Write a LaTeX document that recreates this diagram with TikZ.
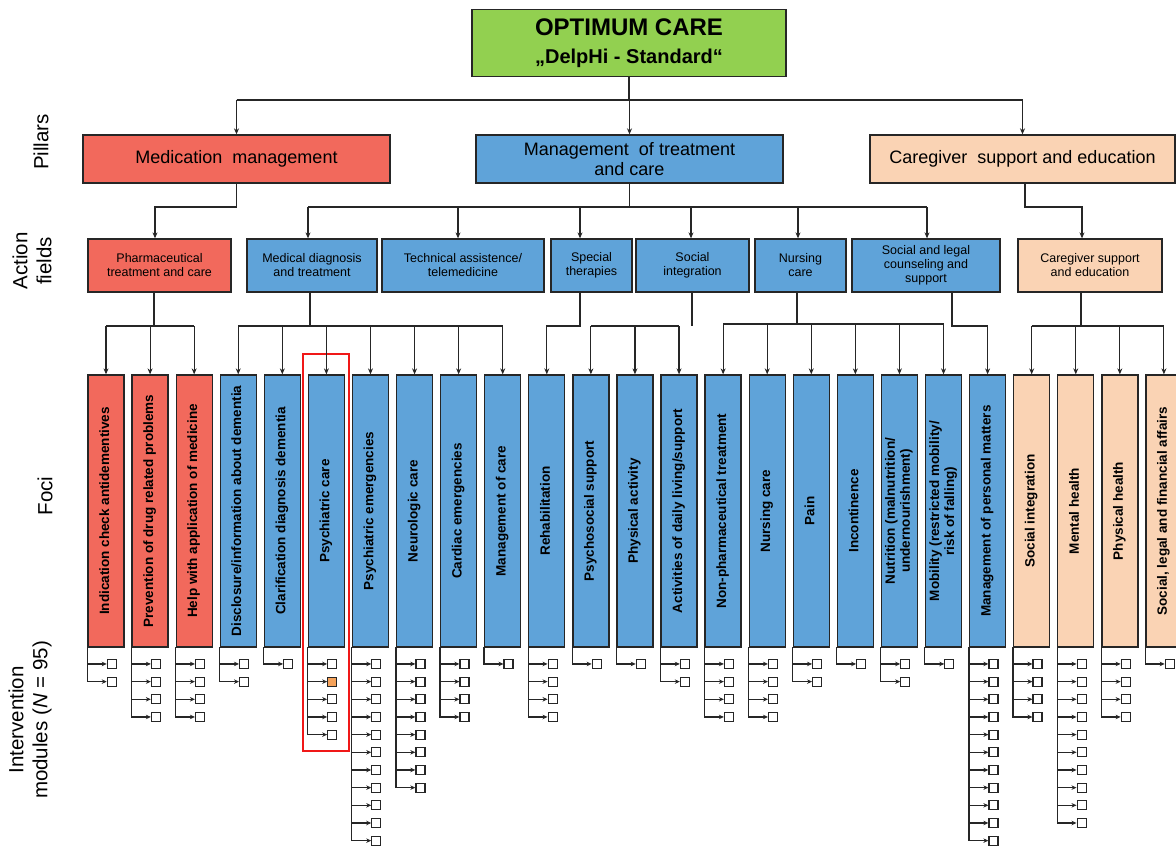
\documentclass[tikz,border=0pt]{standalone}
\usepackage{fontspec}
\usepackage{graphicx}
\setmainfont{Liberation Sans}
\usetikzlibrary{arrows.meta,calc}
\definecolor{cgreen}{HTML}{92D050}
\definecolor{cred}{HTML}{F2695C}
\definecolor{cblue}{HTML}{5FA3D9}
\definecolor{cpeach}{HTML}{FAD3B4}
\definecolor{cedge}{HTML}{262626}
\definecolor{corange}{HTML}{F5A25A}
\definecolor{chl}{HTML}{F01818}
\newcommand{\vtext}[1]{\rotatebox{90}{\begin{tabular}{@{}c@{}}#1\end{tabular}}}
\begin{document}
\begin{tikzpicture}[x=1pt,y=-1pt,
  box/.style={draw=cedge,line width=1.3pt,inner sep=0pt,align=center},
  pillar/.style={box,minimum height=48pt,font=\fontsize{18}{20}\selectfont},
  afield/.style={box,minimum height=53pt,font=\fontsize{12.5}{14}\selectfont},
  focus/.style={box,minimum width=36pt,minimum height=272pt,font=\fontsize{13.5}{15}\selectfont\bfseries},
  conn/.style={draw=cedge,line width=1.1pt},
  arr/.style={conn,-{Stealth[length=6pt,width=5pt]}},
  marr/.style={conn,line width=1.2pt,-{Stealth[length=5pt,width=4.5pt]}},
  mod/.style={draw=cedge,line width=1.2pt,minimum size=9pt,inner sep=0pt,fill=white},
  side/.style={rotate=90,font=\fontsize{20.5}{24}\selectfont,align=center,inner sep=0pt}]
\useasboundingbox (0,0) rectangle (1176,848);
\clip (0,0) rectangle (1176,848);

% side labels
\node[side] (lp) at (41,142) {Pillars};
\node[side] (la) at (32,261) {Action\\fields};
\node[side] (lf) at (45,496) {Foci};
\node[side] (li) at (30,720) {Intervention\\modules (\textit{N} = 95)};

% top
\node[box,fill=cgreen,minimum width=314pt,minimum height=67pt,font=\bfseries\fontsize{20}{26}\selectfont] (top) at (629,43)
  {{\fontsize{24}{26}\selectfont OPTIMUM CARE}\\[2pt]„DelpHi - Standard“};

% pillars
\node[pillar,fill=cred,minimum width=307pt] (p1) at (236.5,159) {Medication\ \ management};
\node[pillar,fill=cblue,minimum width=307pt] (p2) at (629.5,159) {Management\ \ of treatment\\and care};
\node[pillar,fill=cpeach,minimum width=305pt] (p3) at (1022.5,159) {Caregiver\ \ support and education};

% action fields
\node[afield,fill=cred,minimum width=143pt] (af1) at (159.5,265.5) {Pharmaceutical\\treatment and care};
\node[afield,fill=cblue,minimum width=130pt] (af2) at (312,265.5) {Medical diagnosis\\and treatment};
\node[afield,fill=cblue,minimum width=162pt] (af3) at (463,265.5) {Technical assistence/\\telemedicine};
\node[afield,fill=cblue,minimum width=81pt] (af4) at (591.5,265.5) {Special\\therapies};
\node[afield,fill=cblue,minimum width=113pt] (af5) at (692.5,265.5) {Social\\integration};
\node[afield,fill=cblue,minimum width=91pt] (af6) at (800.5,265.5) {Nursing\\care};
\node[afield,fill=cblue,minimum width=148pt] (af7) at (926,265.5) {Social and legal\\counseling and\\support};
\node[afield,fill=cpeach,minimum width=144pt] (af8) at (1090,265.5) {Caregiver support\\and education};

% arrow targets on action fields (t) and drop points below them (s)
\coordinate (t1) at ([xshift=-4.5pt]af1.north);
\coordinate (t2) at ([xshift=-4pt]af2.north);
\coordinate (t3) at ([xshift=-5pt]af3.north);
\coordinate (t4) at ([xshift=-11.5pt]af4.north);
\coordinate (t5) at ([xshift=-1.5pt]af5.north);
\coordinate (t6) at ([xshift=-2.5pt]af6.north);
\coordinate (t7) at ([xshift=1pt]af7.north);
\coordinate (t8) at ([xshift=-8pt]af8.north);
\coordinate (s1) at ([xshift=-5.5pt]af1.south);
\coordinate (s2) at ([xshift=-2pt]af2.south);
\coordinate (s4) at ([xshift=-11.5pt]af4.south);
\coordinate (s5) at ([xshift=-0.5pt]af5.south);
\coordinate (s6) at ([xshift=-3.5pt]af6.south);
\coordinate (s7) at ([xshift=26pt]af7.south);
\coordinate (s8) at ([xshift=-9pt]af8.south);
\coordinate (q3) at ([xshift=2.5pt]p3.south);

% foci
\node[focus,fill=cred] (f1) at (106,511) {\vtext{Indication check antidementives}};
\node[focus,fill=cred] (f2) at (150.08,511) {\vtext{Prevention of drug related problems}};
\node[focus,fill=cred] (f3) at (194.16,511) {\vtext{Help with application of medicine}};
\node[focus,fill=cblue] (f4) at (238.24,511) {\vtext{Disclosure/information about dementia}};
\node[focus,fill=cblue] (f5) at (282.32,511) {\vtext{Clarification diagnosis dementia}};
\node[focus,fill=cblue] (f6) at (326.4,511) {\vtext{Psychiatric care}};
\node[focus,fill=cblue] (f7) at (370.48,511) {\vtext{Psychiatric emergencies}};
\node[focus,fill=cblue] (f8) at (414.56,511) {\vtext{Neurologic care}};
\node[focus,fill=cblue] (f9) at (458.64,511) {\vtext{Cardiac emergencies}};
\node[focus,fill=cblue] (f10) at (502.72,511) {\vtext{Management of care}};
\node[focus,fill=cblue] (f11) at (546.8,511) {\vtext{Rehabilitation}};
\node[focus,fill=cblue] (f12) at (590.88,511) {\vtext{Psychosocial support}};
\node[focus,fill=cblue] (f13) at (634.96,511) {\vtext{Physical activity}};
\node[focus,fill=cblue] (f14) at (679.04,511) {\vtext{Activities of daily living/support}};
\node[focus,fill=cblue] (f15) at (723.12,511) {\vtext{Non-pharmaceutical treatment}};
\node[focus,fill=cblue] (f16) at (767.2,511) {\vtext{Nursing care}};
\node[focus,fill=cblue] (f17) at (811.28,511) {\vtext{Pain}};
\node[focus,fill=cblue] (f18) at (855.36,511) {\vtext{Incontinence}};
\node[focus,fill=cblue] (f19) at (899.44,511) {\vtext{Nutrition (malnutrition/\\undernourishment)}};
\node[focus,fill=cblue] (f20) at (943.52,511) {\vtext{Mobility (restricted mobility/\\risk of falling)}};
\node[focus,fill=cblue] (f21) at (987.6,511) {\vtext{Management of personal matters}};
\node[focus,fill=cpeach] (f22) at (1031.68,511) {\vtext{Social integration}};
\node[focus,fill=cpeach] (f23) at (1075.76,511) {\vtext{Mental health}};
\node[focus,fill=cpeach] (f24) at (1119.84,511) {\vtext{Physical health}};
\node[focus,fill=cpeach] (f25) at (1163.92,511) {\vtext{Social, legal and financial affairs}};

% highlight frame
\draw[chl,line width=2pt] ($(f6.north west)+(-4.5,-20)$) rectangle ($(f6.south east)+(4,103)$);

% top -> pillars
\coordinate (busP) at (0,100);
\draw[conn] (top.south) -- (top.south |- busP);
\draw[conn] (busP -| p1.north) -- (busP -| p3.north);
\foreach \p in {p1,p2,p3} \draw[arr] (busP -| \p.north) -- (\p.north);

% pillars -> action fields
\coordinate (busA) at (0,207);
\draw[arr] (p1.south) |- (busA -| t1) -- (t1);
\draw[conn] (p2.south) -- (p2.south |- busA);
\draw[conn] (busA -| t2) -- (busA -| t7);
\foreach \t in {t2,t3,t4,t5,t6,t7} \draw[arr] (busA -| \t) -- (\t);
\draw[arr] (q3) |- (busA -| t8) -- (t8);

% action fields -> foci
\coordinate (busF) at (0,326);
\coordinate (busG) at (0,324);
\draw[conn] (s1) -- (busF -| s1);
\draw[conn] (busF -| f1.north) -- (busF -| f3.north);
\foreach \f in {f1,f2,f3} \draw[arr] (busF -| \f.north) -- (\f.north);
\draw[conn] (s2) -- (busF -| s2);
\draw[conn] (busF -| f4.north) -- (busF -| f10.north);
\foreach \f in {f4,f5,f6,f7,f8,f9,f10} \draw[arr] (busF -| \f.north) -- (\f.north);
\draw[arr] (s4) |- (busF -| f11.north) -- (f11.north);
\draw[conn] (s5) -- (busF -| s5);
\draw[conn] (busF -| f12.north) -- (busF -| f14.north);
\foreach \f in {f12,f13,f14} \draw[arr] (busF -| \f.north) -- (\f.north);
\draw[conn] (s6) -- (busG -| s6);
\draw[conn] (busG -| f15.north) -- (busG -| f20.north);
\foreach \f in {f15,f16,f17,f18,f19,f20} \draw[arr] (busG -| \f.north) -- (\f.north);
\draw[arr] (s7) |- (busF -| f21.north) -- (f21.north);
\draw[conn] (s8) -- (busF -| s8);
\draw[conn] (busF -| f22.north) -- (busF -| f25.north);
\foreach \f in {f22,f23,f24,f25} \draw[arr] (busF -| \f.north) -- (\f.north);

% intervention modules
\foreach \i/\n in {1/2,2/4,3/4,4/2,5/1,6/5,7/11,8/8,9/4,10/1,11/4,12/1,13/1,14/2,15/4,16/4,17/2,18/1,19/2,20/1,21/11,22/4,23/10,24/4,25/1}{
  \foreach \k in {1,...,\n}{
    \node[mod] (m\i-\k) at ($(f\i.south west)+(24.5,{16.3+17.67*(\k-1)})$) {};
    \draw[marr] (f\i.south west |- m\i-\k) -- (m\i-\k.west);
  }
  \draw[conn,line width=1.2pt,line cap=rect] (f\i.south west) -- (f\i.south west |- m\i-\n);
}
\node[mod,fill=corange] (hl) at (m6-2) {};
\end{tikzpicture}
\end{document}
